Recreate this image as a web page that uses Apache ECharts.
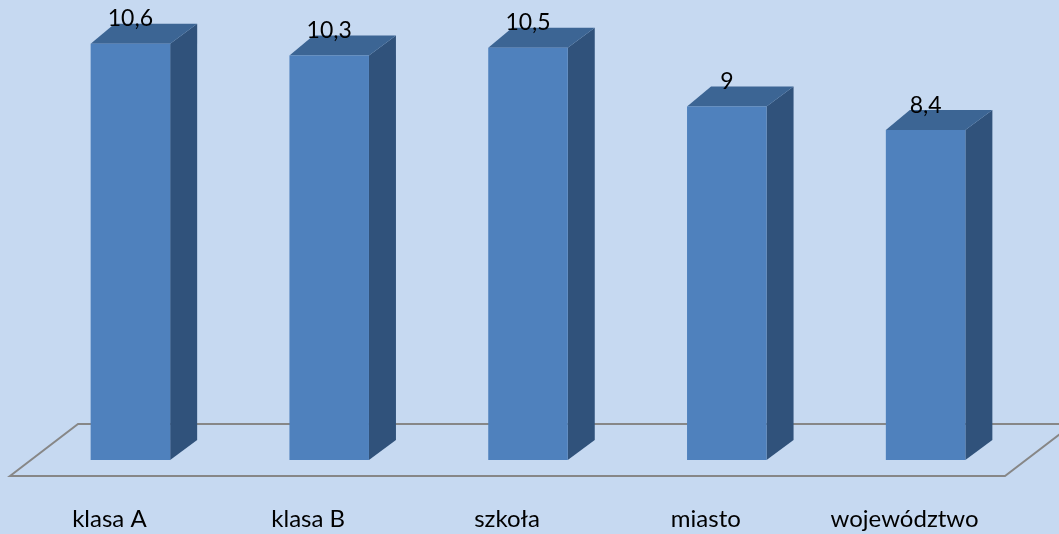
<!DOCTYPE html>
<html><head><meta charset="utf-8">
<script src="https://cdn.jsdelivr.net/npm/echarts@6/dist/echarts.min.js"></script>
<style>html,body{margin:0;padding:0;background:#c6d9f1}#c{width:1059px;height:534px}</style>
</head><body><div id="c"></div>
<script>
const categories = ['klasa A', 'klasa B', 'szkoła', 'miasto', 'województwo'];
const values = [10.6, 10.3, 10.5, 9, 8.4];
const valueLabels = ['10,6', '10,3', '10,5', '9', '8,4'];

const FRONT = '#4f81bd', SIDE = '#30527b', TOP = '#3c6594';
const DX = 27, DY = -20;
const FONT = 'Lato, "Open Sans", sans-serif';

function renderBar(params, api) {
  const i = api.value(0), v = api.value(1);
  const top = api.coord([i, v]);
  const base = api.coord([i, 0]);
  const w = api.size([1, 0])[0] * 0.4;
  const x0 = top[0] - w / 2, x1 = top[0] + w / 2;
  const yt = top[1], yb = base[1];
  return {
    type: 'group',
    children: [
      { type: 'polygon', shape: { points: [[x1, yt], [x1 + DX, yt + DY], [x1 + DX, yb + DY], [x1, yb]] }, style: { fill: SIDE } },
      { type: 'polygon', shape: { points: [[x0, yt], [x0 + DX - 3, yt + DY], [x1 + DX, yt + DY], [x1, yt]] }, style: { fill: TOP } },
      { type: 'rect', shape: { x: x0, y: yt, width: w, height: yb - yt }, style: { fill: FRONT } },
      { type: 'text', x: top[0], y: yt + DY - 5, style: { text: valueLabels[params.dataIndex], fill: '#000', font: '23px ' + FONT, align: 'center', verticalAlign: 'middle' } }
    ]
  };
}

function renderFloor(params, api) {
  const cs = params.coordSys;
  const b = cs.y + cs.height, l = cs.x, r = cs.x + cs.width;
  return {
    type: 'polygon',
    shape: { points: [[l - 21, b + 16], [l + 47, b - 36], [r + 48, b - 36], [r - 20, b + 16]] },
    style: { fill: 'none', stroke: '#878787', lineWidth: 2 }
  };
}

const chart = echarts.init(document.getElementById('c'));
chart.setOption({
  backgroundColor: '#c6d9f1',
  animation: false,
  grid: { left: 31, right: 34, top: 28, bottom: 72 },
  xAxis: {
    type: 'category', data: categories,
    axisLine: { show: false }, axisTick: { show: false }, splitLine: { show: false },
    axisLabel: { interval: 0, color: '#000', fontSize: 24, fontFamily: FONT, lineHeight: 30, margin: 44, padding: [0, 42, 0, 0] }
  },
  yAxis: { type: 'value', min: 0, max: 11, show: false, splitLine: { show: false } },
  series: [
    { type: 'custom', z: 1, data: [[0, 0]], renderItem: renderFloor, silent: true },
    { type: 'custom', z: 2, data: values.map((v, i) => [i, v]), encode: { x: 0, y: 1 }, renderItem: renderBar }
  ]
});
</script></body></html>
